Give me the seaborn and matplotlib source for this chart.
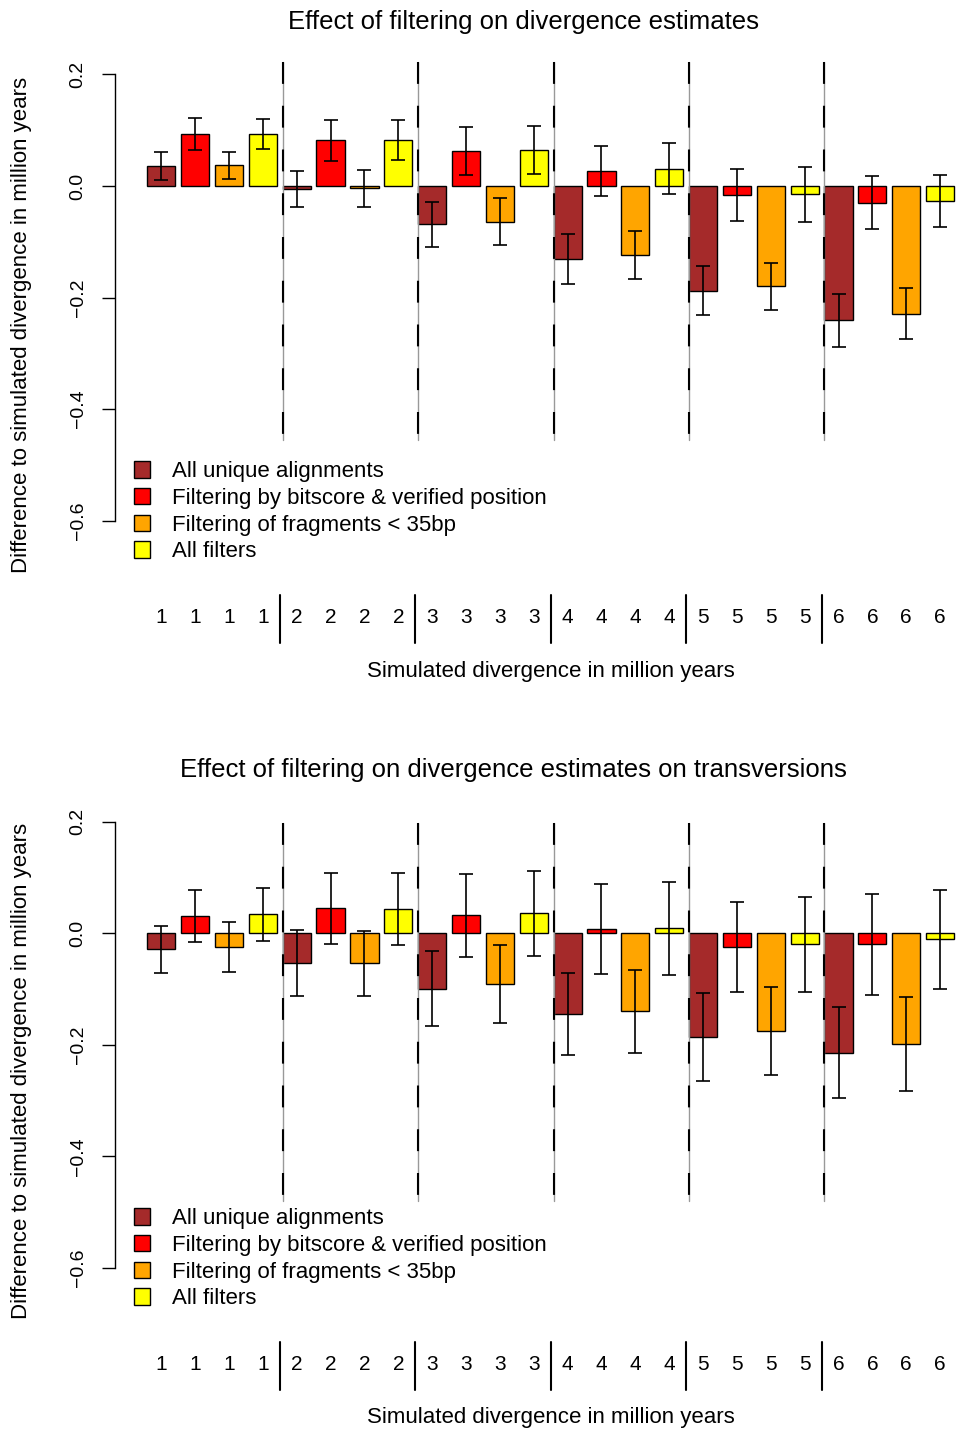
import pandas as pd
import seaborn as sns
import matplotlib.pyplot as plt
from matplotlib.patches import Patch

# === Datos ===
divergence = [1, 2, 3, 4, 5, 6]
filters = ['All unique alignments',
           'Filtering by bitscore & verified position',
           'Filtering of fragments < 35bp',
           'All filters']
colors = ['#A52A2A', '#FF0000', '#FFA500', '#FFFF00']

# panel 1: todas las sustituciones (media por filtro, divergencia 1..6)
all_unique = [0.036, -0.006, -0.069, -0.131, -0.188, -0.241]
bitscore = [0.093, 0.082, 0.063, 0.027, -0.016, -0.030]
fragments = [0.037, -0.004, -0.064, -0.123, -0.180, -0.229]
all_filters = [0.093, 0.082, 0.064, 0.031, -0.015, -0.027]

all_unique_err = [0.025, 0.032, 0.040, 0.044, 0.044, 0.047]
bitscore_err = [0.029, 0.037, 0.043, 0.045, 0.047, 0.047]
fragments_err = [0.024, 0.033, 0.042, 0.043, 0.042, 0.046]
all_filters_err = [0.027, 0.036, 0.043, 0.046, 0.049, 0.046]

# panel 2: solo transversiones
tv_all_unique = [-0.029, -0.053, -0.099, -0.145, -0.186, -0.214]
tv_bitscore = [0.031, 0.045, 0.032, 0.008, -0.024, -0.020]
tv_fragments = [-0.024, -0.054, -0.091, -0.140, -0.176, -0.198]
tv_all_filters = [0.034, 0.044, 0.036, 0.009, -0.020, -0.011]

tv_all_unique_err = [0.043, 0.059, 0.067, 0.074, 0.079, 0.082]
tv_bitscore_err = [0.046, 0.064, 0.074, 0.081, 0.081, 0.091]
tv_fragments_err = [0.045, 0.059, 0.070, 0.074, 0.079, 0.084]
tv_all_filters_err = [0.047, 0.065, 0.076, 0.083, 0.086, 0.088]


def make_df(means, errs):
    rows = []
    k = 0
    for i, d in enumerate(divergence):
        for f, m, e in zip(filters, means, errs):
            rows.append({'bar': k, 'div': str(d), 'filter': f, 'diff': m[i], 'err': e[i]})
            k += 1
    return pd.DataFrame(rows)


df1 = make_df([all_unique, bitscore, fragments, all_filters],
              [all_unique_err, bitscore_err, fragments_err, all_filters_err])
df2 = make_df([tv_all_unique, tv_bitscore, tv_fragments, tv_all_filters],
              [tv_all_unique_err, tv_bitscore_err, tv_fragments_err, tv_all_filters_err])

sns.set_style('white')
plt.rcParams['font.family'] = ['Liberation Sans', 'DejaVu Sans']
plt.rcParams['text.color'] = 'black'
plt.rcParams['axes.labelcolor'] = 'black'
plt.rcParams['xtick.color'] = 'black'
plt.rcParams['ytick.color'] = 'black'

fig = plt.figure(figsize=(9.56, 14.29), dpi=100)
ax1 = fig.add_axes([0.1203, 0.5887, 0.8797, 0.3710])
ax2 = fig.add_axes([0.1203, 0.0660, 0.8797, 0.3706])

bw = 1 / 1.2
n_f = len(filters)


def draw_panel(ax, df, dash_span):
    sns.barplot(data=df, x='bar', y='diff', hue='filter', hue_order=filters,
                palette=colors, saturation=1, order=list(df['bar']), dodge=False,
                width=bw, edgecolor='black', linewidth=1, errorbar=None,
                legend=False, ax=ax)
    ax.errorbar(df['bar'], df['diff'], yerr=df['err'], fmt='none',
                ecolor='black', elinewidth=1.2, capsize=5, capthick=1.2, zorder=5)

    # lineas discontinuas al inicio de cada grupo
    for g in range(1, len(divergence)):
        x = g * n_f - bw / 2
        ax.plot([x, x], dash_span, color='#999999', lw=1, zorder=1)
        ax.plot([x, x], dash_span, color='black', lw=1.5, dashes=(10.5, 10.5), zorder=1)
        # separadores en la fila de etiquetas
        xs = g * n_f - 0.5
        ax.plot([xs, xs], [-0.733, -0.819], color='black', lw=1.5, clip_on=False)

    ax.set_xlim(-1.367, 23.47)
    ax.set_ylim(-0.72, 0.23)
    ax.set_xticks(list(df['bar']))
    ax.set_xticklabels(df['div'], fontsize=15)
    ax.tick_params(axis='x', length=0, pad=14.8)
    ax.set_yticks([-0.6, -0.4, -0.2, 0.0, 0.2])
    ax.set_yticklabels(['\u22120.6', '\u22120.4', '\u22120.2', '0.0', '0.2'],
                       rotation=90, va='center', fontsize=14)
    ax.tick_params(axis='y', length=9.5, width=1, pad=11, left=True, color='black')
    ax.set_xlabel('')
    ax.set_ylabel('')
    for s in ['top', 'right', 'bottom']:
        ax.spines[s].set_visible(False)
    ax.spines['left'].set_bounds(-0.6, 0.2)
    ax.spines['left'].set_color('black')
    ax.spines['left'].set_linewidth(1)

    handles = [Patch(facecolor=c, edgecolor='black', linewidth=1) for c in colors]
    ax.legend(handles, filters, loc='upper left', bbox_to_anchor=(0.022, 0.2386),
              frameon=False, fontsize=16, handlelength=0.75, handleheight=0.75,
              handletextpad=1.0, labelspacing=0.255, borderpad=0, borderaxespad=0)


draw_panel(ax1, df1, [0.222, -0.456])
draw_panel(ax2, df2, [0.198, -0.480])

fig.text(523 / 956, 1 - 21.5 / 1429, 'Effect of filtering on divergence estimates',
         ha='center', va='center', fontsize=18.5)
fig.text(513 / 956, 1 - 769.5 / 1429, 'Effect of filtering on divergence estimates on transversions',
         ha='center', va='center', fontsize=18.5)
for yc in [671, 1418]:
    fig.text(551 / 956, 1 - yc / 1429, 'Simulated divergence in million years',
             ha='center', va='center', fontsize=16)
for yc in [325, 1071]:
    fig.text(22 / 956, 1 - yc / 1429, 'Difference to simulated divergence in million years',
             ha='center', va='center', rotation=90, fontsize=16)

plt.savefig('out.png', dpi=100)
